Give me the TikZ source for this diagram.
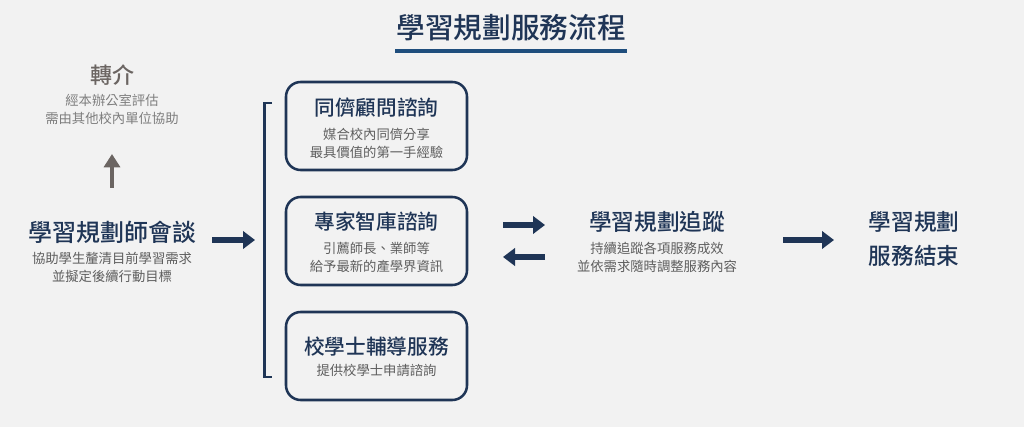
\documentclass[tikz,border=0pt]{standalone}
\usepackage{fontspec}
\setmainfont{Noto Sans CJK TC}
\newfontfamily\medfont{Noto Sans CJK TC}[UprightFont=* Medium]
\usetikzlibrary{arrows.meta}
\definecolor{navy}{HTML}{1F3556}
\definecolor{lineblue}{HTML}{1F4E7D}
\definecolor{subgray}{HTML}{5E5E5E}
\definecolor{refgray}{HTML}{6B6562}
\definecolor{bg}{HTML}{F2F2F2}

\begin{document}
\begin{tikzpicture}
        [x=0.75pt,y=-0.75pt,
         head/.style={font=\fontsize{#1}{#1}\selectfont\medfont,text=navy,inner sep=0},
         sub/.style={font=\fontsize{10}{13.5}\selectfont,text=subgray,align=center,inner sep=0},
         card/.style={draw=navy,line width=1.9pt,rounded corners=11pt,minimum width=135.75pt,minimum height=66pt,inner sep=0},
         fat/.style={draw=navy,line width=4.2pt,-{Triangle[length=9pt,width=13pt]}}]

        \fill[bg] (0,0) rectangle (1024,427);
        \useasboundingbox (0,0) rectangle (1024,427);

        % title
        \node[head=21.5] (title) at (511,28) {學習規劃服務流程};
        \draw[lineblue,line width=2.4pt] (395,51) -- (627,51);

        % referral
        \node[head=16.5,text=refgray] (ref) at (112,75) {轉介};
        \node[sub,text=subgray!80] (refsub) at (112,109) {經本辦公室評估\\需由其他校內單位協助};

        % first meeting
        \node[head=18] (meet) at (112,232) {學習規劃師會談};
        \node[sub] (meetsub) at (112,267) {協助學生釐清目前學習需求\\並擬定後續行動目標};

        % three services
        \node[card] (b1) at (376.5,126) {};
        \node[card] (b2) at (376.5,241) {};
        \node[card] (b3) at (376.5,356) {};
        \node[head=15.5] (t1) at (376.5,108) {同儕顧問諮詢};
        \node[sub] (s1) at (376.5,143) {媒合校內同儕分享\\最具價值的第一手經驗};
        \node[head=15.5] (t2) at (376.5,222) {專家智庫諮詢};
        \node[sub] (s2) at (376.5,257) {引薦師長、業師等\\給予最新的產學界資訊};
        \node[head=15.5] (t3) at (376.5,347) {校學士輔導服務};
        \node[sub] (s3) at (376.5,370) {提供校學士申請諮詢};

        \draw[navy,line width=1.9pt] (272,103) -- (264.5,103) -- (264.5,377) -- (272,377);

        % tracking
        \node[head=17] (track) at (657,222) {學習規劃追蹤};
        \node[sub] (tracksub) at (657,257) {持續追蹤各項服務成效\\並依需求隨時調整服務內容};

        % end
        \node[head=17,align=center,font=\fontsize{17}{25.5}\selectfont\medfont] (done) at (914,239) {學習規劃\\服務結束};

        % arrows
        \coordinate (g1) at (112,188);
        \coordinate (g2) at (112,154);
        \draw[refgray,line width=3.6pt,-{Triangle[length=10pt,width=12pt]}] (g1) -- (g2);

        \coordinate (a1) at (212,240);
        \coordinate (a2) at (255,240);
        \draw[fat] (a1) -- (a2);

        \coordinate (c1) at (503,225);
        \coordinate (c2) at (545,225);
        \draw[fat] (c1) -- (c2);
        \coordinate (d1) at (545,257);
        \coordinate (d2) at (503,257);
        \draw[fat] (d1) -- (d2);

        \coordinate (e1) at (783,240);
        \coordinate (e2) at (834,240);
        \draw[fat] (e1) -- (e2);

      \end{tikzpicture}
\end{document}
